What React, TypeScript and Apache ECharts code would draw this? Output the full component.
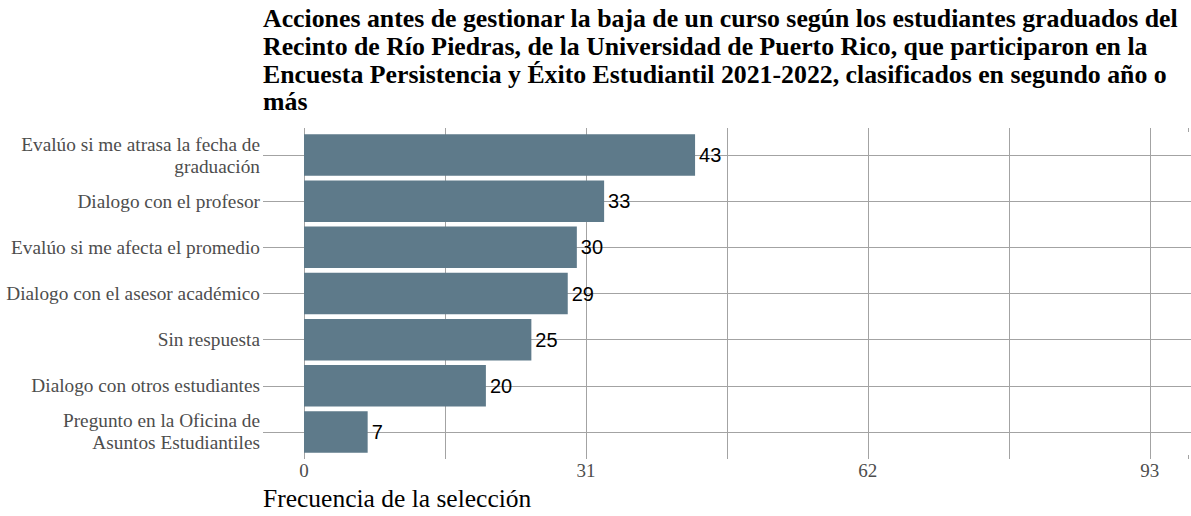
import React, { useEffect, useRef } from "react";
import * as echarts from "echarts";

const titleLines = [
  "Acciones antes de gestionar la baja de un curso según los estudiantes graduados del",
  "Recinto de Río Piedras, de la Universidad de Puerto Rico, que participaron en la",
  "Encuesta Persistencia y Éxito Estudiantil 2021-2022, clasificados en segundo año o",
  "más",
];
const categories = [
  "Evalúo si me atrasa la fecha de\ngraduación",
  "Dialogo con el profesor",
  "Evalúo si me afecta el promedio",
  "Dialogo con el asesor académico",
  "Sin respuesta",
  "Dialogo con otros estudiantes",
  "Pregunto en la Oficina de\nAsuntos Estudiantiles",
];
const values = [43, 33, 30, 29, 25, 20, 7];
const xTicks = [0, 31, 62, 93];
const xTitle = "Frecuencia de la selección";

const GRID = "#a3a3a3";
const NONE = "rgba(0,0,0,0)";
const lineColors = [GRID, GRID, GRID, GRID, GRID, GRID, GRID, NONE];

export default function App() {
  const ref = useRef<HTMLDivElement>(null);
  useEffect(() => {
    if (!ref.current) return;
    const chart = echarts.init(ref.current, null, { renderer: "svg" });
    const xCommon = {
      type: "value",
      min: 0,
      max: 97.2,
      interval: 15.5,
      axisLine: { show: false },
      axisTick: { show: true, length: 4, lineStyle: { color: GRID, width: 1 } },
    };
    chart.setOption({
      animation: false,
      backgroundColor: "#ffffff",
      grid: { left: 304, top: 132, width: 886, height: 323, containLabel: false },
      graphic: [
        {
          type: "text",
          left: 263,
          top: 5,
          style: {
            text: titleLines.join("\n"),
            font: "bold 25.8px 'Liberation Serif', serif",
            lineHeight: 27.7,
            fill: "#000000",
          },
        },
        {
          type: "text",
          left: 263,
          top: 485,
          style: {
            text: xTitle,
            font: "25.5px 'Liberation Serif', serif",
            fill: "#000000",
          },
        },
      ],
      xAxis: [
        {
          ...xCommon,
          position: "bottom",
          splitLine: { show: true, lineStyle: { color: lineColors, width: 1 } },
          axisLabel: {
            show: true,
            margin: 6,
            fontFamily: "'Liberation Serif', serif",
            fontSize: 19,
            color: "#4d4d4d",
            formatter: (v: number) => (xTicks.includes(v) ? String(v) : ""),
          },
        },
        {
          ...xCommon,
          position: "top",
          splitLine: { show: false },
          axisLabel: { show: false },
        },
      ],
      yAxis: [
        {
          type: "category",
          data: categories,
          inverse: true,
          axisLine: { show: false },
          axisTick: {
            show: true,
            alignWithLabel: true,
            length: 41,
            lineStyle: { color: GRID, width: 1 },
          },
          splitLine: { show: false },
          axisLabel: {
            margin: 44,
            fontFamily: "'Liberation Serif', serif",
            fontSize: 19.3,
            lineHeight: 22,
            color: "#4d4d4d",
            align: "right",
          },
        },
        {
          type: "category",
          data: categories,
          inverse: true,
          position: "left",
          axisLine: { show: false },
          axisTick: {
            show: true,
            inside: true,
            alignWithLabel: true,
            length: 887,
            lineStyle: { color: GRID, width: 1 },
          },
          axisLabel: { show: false },
          splitLine: { show: false },
        },
      ],
      series: [
        {
          type: "bar",
          data: values,
          xAxisIndex: 0,
          yAxisIndex: 0,
          barCategoryGap: "10%",
          itemStyle: { color: "#5e7a8a" },
          label: {
            show: true,
            position: "right",
            distance: 4,
            fontFamily: "'Liberation Sans', Arial, sans-serif",
            fontSize: 20,
            color: "#000000",
          },
        },
      ],
    });
    return () => chart.dispose();
  }, []);
  return (
    <div
      ref={ref}
      style={{ position: "absolute", left: 0, top: 0, width: 1191, height: 516 }}
    />
  );
}
